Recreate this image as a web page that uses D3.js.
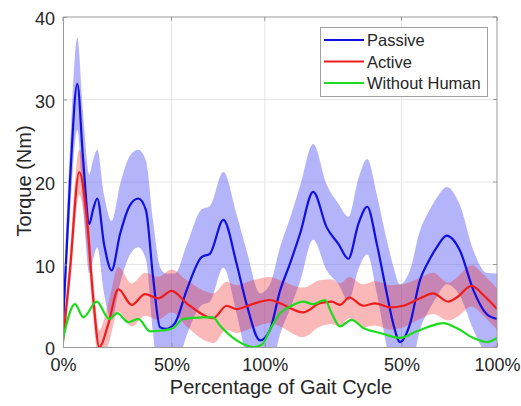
<!DOCTYPE html>
<html>
<head>
<meta charset="utf-8">
<script src="https://cdn.jsdelivr.net/npm/d3@7"></script>
<style>
  body { margin: 0; background: #fff; }
  text { font-family: "Liberation Sans", Arial, Helvetica, sans-serif; fill: #262626; }
</style>
</head>
<body>
<script>
// Samples along two gait cycles (0..200)
var passiveX = [0, 3.2, 6.6, 9.2, 12.1, 13.8, 15.8, 18.9, 22.4, 26.3, 30.9, 34.7, 38.2, 41.5, 44.7, 47.5,
  51.6, 57, 63.9, 67.7, 73.9, 80, 84.6, 90.8, 95.4, 100, 104.6, 109.2, 115.3, 121.5, 126.9, 131.5,
  136.1, 140.2, 144.6, 149.2, 152.2, 155.3, 159.9, 164.5, 168.3, 172.3, 176.8, 182.9, 189.1, 195.2, 200];
var passiveMean = [2.8, 20, 31.9, 23, 14.9, 16.6, 18.0, 12.5, 9.3, 13.7, 17.2, 18.0, 16.6, 8.5, 2.4, 2.2,
  2.9, 6.9, 10.9, 11.3, 15.4, 10.1, 5.2, 0.8, 2.1, 6.8, 10.1, 13.7, 18.8, 14.5, 12.5, 10.7,
  14.9, 17.0, 12.5, 6.5, 2.8, 0.6, 2.8, 8.1, 10.3, 12.1, 13.5, 11.7, 6.9, 4.0, 3.4];
var passiveSd = [2.5, 4, 5.6, 5.5, 6, 6, 5.9, 6, 6, 6, 6, 5.9, 6, 6.8, 7.3, 6.7,
  6, 5.5, 5.8, 5.8, 5.8, 6, 6.5, 5.7, 5.5, 5.3, 5.5, 5.8, 5.8, 5.2, 4.9, 5.1,
  5.5, 5.8, 6, 6.5, 7, 7, 6.5, 6, 6, 6, 5.9, 5.5, 4.8, 5, 5.5];

var activeX = [0, 3.2, 7.5, 10.9, 14, 16.7, 20.9, 25.5, 31.7, 37.8, 43.9, 50.1, 57, 66.2, 69.3, 75.4,
  80, 86.2, 95.4, 100, 110.7, 118.4, 123.8, 127.6, 131.9, 138.4, 143.8, 150.7, 156.8, 164.5, 170.6,
  177.5, 181.4, 188.3, 193.7, 200];
var activeMean = [0.6, 9.3, 21.2, 15.8, 5.7, 0, 2.8, 7.0, 5.1, 6.4, 5.9, 6.8, 5.3, 3.7, 3.5, 5.0,
  4.6, 5.1, 5.7, 5.3, 4.2, 5.3, 5.5, 5.1, 6.0, 5.0, 5.3, 4.8, 5.0, 5.9, 6.5,
  5.5, 6.0, 7.4, 6.3, 4.6];
var activeSd = [1, 2, 2.7, 3, 2.5, 2, 2.5, 2.7, 2.6, 2.6, 2.6, 2.6, 2.8, 3, 3, 2.9,
  2.9, 2.9, 2.8, 2.8, 3, 2.8, 2.7, 2.6, 2.5, 2.6, 2.7, 2.7, 2.6, 2.5, 2.5,
  2.3, 2.4, 2.5, 2.5, 2.5];

var noHumanX = [0, 5.5, 9.4, 15.5, 21.3, 25, 30.1, 34.7, 40.1, 46.1, 50.8, 55.4, 64.5, 69.1, 72.3, 80,
  87.7, 91.7, 95.4, 100, 104.6, 110.7, 115.3, 120.7, 123.8, 127.6, 133, 138.4, 146.1, 155.3, 163,
  169.1, 175.2, 181.4, 189.1, 195.2, 200];
var noHumanTorque = [1.0, 5.2, 3.6, 5.5, 3.4, 4.1, 3.0, 3.4, 1.9, 2.0, 2.3, 3.4, 3.6, 3.6, 2.6, 0.8,
  0, 0.3, 2.1, 4.1, 4.9, 5.5, 5.2, 5.7, 4.1, 2.5, 3.3, 2.3, 1.7, 1.1, 1.9,
  2.5, 2.9, 2.3, 1.1, 0.6, 1.1];

// Axis ticks
var xTicks = [0, 50, 93, 156, 200];
var xTickLabels = ["0%", "50%", "100%", "50%", "100%"];
var yTicks = [0, 10, 20, 30, 40];

var seriesNames = ["Passive", "Active", "Without Human"];
var seriesColors = ["#1010e0", "#ee1c1c", "#1ddc1d"];
var bandColors = ["rgba(40,40,240,0.35)", "rgba(240,40,40,0.33)"];

window.onload = drawChart();
function drawChart(){

  var width = 521,
      height = 406;
  var margin = {left: 63, top: 17, right: 24, bottom: 59};

  var svg = d3.select("body")
      .append("svg")
      .attr("width", width)
      .attr("height", height);

  svg.append("rect").attr("width", width).attr("height", height).attr("fill", "#fff");

  var x = d3.scaleLinear()
      .domain([0, 200])
      .range([margin.left, width - margin.right]);
  var y = d3.scaleLinear()
      .domain([0, 40])
      .range([height - margin.bottom, margin.top]);

  // clip for the bands that run below zero
  svg.append("clipPath").attr("id", "plotClip")
    .append("rect")
      .attr("x", x(0)).attr("y", y(40))
      .attr("width", x(200) - x(0)).attr("height", y(0) - y(40));

  // grid lines
  svg.append("g").selectAll("line")
      .data(xTicks.slice(1, -1))
      .enter().append("line")
      .attr("x1", function(d){ return x(d); })
      .attr("x2", function(d){ return x(d); })
      .attr("y1", y(0)).attr("y2", y(40))
      .attr("stroke", "#e6e6e6");
  svg.append("g").selectAll("line")
      .data(yTicks.slice(1, -1))
      .enter().append("line")
      .attr("x1", x(0)).attr("x2", x(200))
      .attr("y1", function(d){ return y(d); })
      .attr("y2", function(d){ return y(d); })
      .attr("stroke", "#e6e6e6");

  function rows(xs, mean, sd){
    return xs.map(function(v, i){
      return {x: v, y: mean[i], sd: sd ? sd[i] : 0};
    });
  }
  var passive = rows(passiveX, passiveMean, passiveSd),
      active = rows(activeX, activeMean, activeSd),
      noHuman = rows(noHumanX, noHumanTorque);

  var band = d3.area()
      .x(function(d){ return x(d.x); })
      .y0(function(d){ return y(d.y - d.sd); })
      .y1(function(d){ return y(d.y + d.sd); })
      .curve(d3.curveMonotoneX);
  var line = d3.line()
      .x(function(d){ return x(d.x); })
      .y(function(d){ return y(d.y); })
      .curve(d3.curveMonotoneX);

  var plot = svg.append("g").attr("clip-path", "url(#plotClip)");

  plot.append("path").datum(passive)
      .attr("d", band).attr("fill", bandColors[0]);
  plot.append("path").datum(active)
      .attr("d", band).attr("fill", bandColors[1]);

  [passive, active, noHuman].forEach(function(s, i){
    plot.append("path").datum(s)
        .attr("d", line)
        .attr("fill", "none")
        .attr("stroke", seriesColors[i])
        .attr("stroke-width", 2.2)
        .attr("stroke-linejoin", "round");
  });

  // axes (ticks inward, box around)
  var xAxis = svg.append("g")
      .attr("transform", "translate(0," + y(0) + ")")
      .call(d3.axisBottom(x).tickValues(xTicks)
        .tickFormat(function(d, i){ return xTickLabels[i]; })
        .tickSizeInner(-4).tickSizeOuter(0).tickPadding(11));
  var yAxis = svg.append("g")
      .attr("transform", "translate(" + x(0) + ",0)")
      .call(d3.axisLeft(y).tickValues(yTicks)
        .tickSizeInner(-4).tickSizeOuter(0).tickPadding(8));

  [xAxis, yAxis].forEach(function(a){
    a.select(".domain").attr("stroke", "#9a9a9a");
    a.selectAll(".tick line").attr("stroke", "#9a9a9a");
    a.selectAll(".tick text")
        .attr("font-size", 18)
        .attr("fill", "#262626");
  });
  yAxis.selectAll(".tick text").attr("dy", "0.42em");

  // top and right edges with inner ticks
  svg.append("line")
      .attr("x1", x(0)).attr("x2", x(200))
      .attr("y1", y(40)).attr("y2", y(40))
      .attr("stroke", "#9a9a9a");
  svg.append("line")
      .attr("x1", x(200)).attr("x2", x(200))
      .attr("y1", y(0)).attr("y2", y(40))
      .attr("stroke", "#9a9a9a");
  svg.append("g").selectAll("line")
      .data(xTicks)
      .enter().append("line")
      .attr("x1", function(d){ return x(d); })
      .attr("x2", function(d){ return x(d); })
      .attr("y1", y(40)).attr("y2", y(40) + 4)
      .attr("stroke", "#9a9a9a");
  svg.append("g").selectAll("line")
      .data(yTicks)
      .enter().append("line")
      .attr("x1", x(200)).attr("x2", x(200) - 4)
      .attr("y1", function(d){ return y(d); })
      .attr("y2", function(d){ return y(d); })
      .attr("stroke", "#9a9a9a");

  // axis titles
  svg.append("text")
      .attr("x", 281).attr("y", 394)
      .attr("text-anchor", "middle")
      .attr("font-size", 20)
      .text("Percentage of Gait Cycle");
  svg.append("text")
      .attr("transform", "translate(31,181) rotate(-90)")
      .attr("text-anchor", "middle")
      .attr("font-size", 20)
      .text("Torque (Nm)");

  // legend
  var legend = svg.append("g");
  legend.append("rect")
      .attr("x", 320.5).attr("y", 27.5)
      .attr("width", 167).attr("height", 69)
      .attr("fill", "#fff")
      .attr("stroke", "#a0a0a0");
  seriesNames.forEach(function(name, i){
    var ly = 40 + i * 21.5;
    legend.append("line")
        .attr("x1", 324).attr("x2", 364)
        .attr("y1", ly).attr("y2", ly)
        .attr("stroke", seriesColors[i])
        .attr("stroke-width", 2.2);
    legend.append("text")
        .attr("x", 367).attr("y", ly + 6)
        .attr("font-size", 16.5)
        .text(name);
  });
};
</script>
</body>
</html>
